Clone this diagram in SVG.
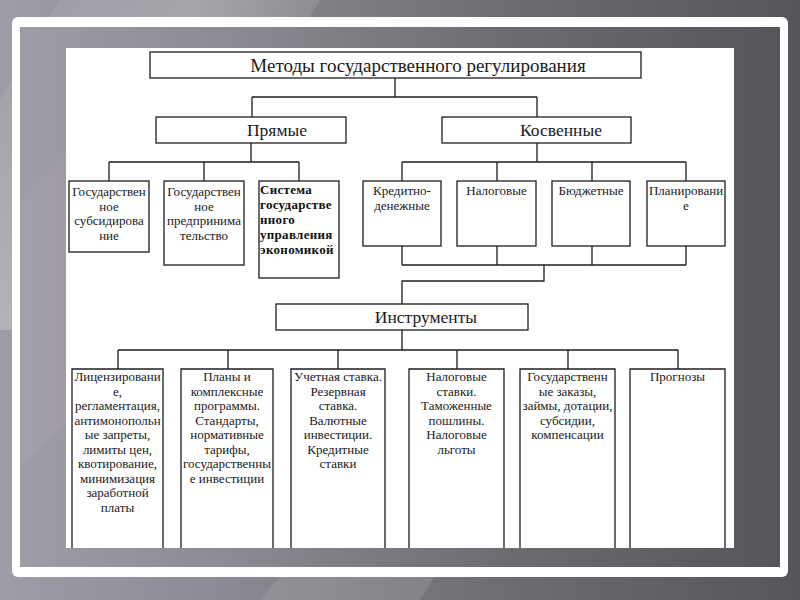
<svg xmlns="http://www.w3.org/2000/svg" width="800" height="600" viewBox="0 0 800 600">
<defs>
<linearGradient id="bg" x1="0" y1="0" x2="1" y2="0">
<stop offset="0" stop-color="#9e9ca6"/>
<stop offset="0.3" stop-color="#8a8890"/>
<stop offset="0.65" stop-color="#6c6b70"/>
<stop offset="1" stop-color="#56565a"/>
</linearGradient>
<linearGradient id="streak" x1="0" y1="0" x2="1" y2="0.6">
<stop offset="0" stop-color="#ffffff" stop-opacity="0"/>
<stop offset="0.45" stop-color="#ffffff" stop-opacity="0.22"/>
<stop offset="1" stop-color="#ffffff" stop-opacity="0"/>
</linearGradient>
<style>
.box{fill:#ffffff;stroke:#1e1e1e;stroke-width:1.3}
.open{fill:none;stroke:#1e1e1e;stroke-width:1.3}
.ln{fill:none;stroke:#1e1e1e;stroke-width:1.3}
.hd{font-size:17.5px;text-anchor:middle}
.tt{font-size:19px;text-anchor:middle}
.sm{font-size:13px;text-anchor:middle}
.bd{font-size:13px;font-weight:bold;fill:#111;letter-spacing:0.3px}
</style>
</defs>
<rect x="0" y="0" width="800" height="600" fill="url(#bg)"/>
<polygon points="60,0 320,0 120,330 0,330 0,100" fill="url(#streak)"/>
<polygon points="260,600 420,600 470,520 330,520" fill="#ffffff" fill-opacity="0.1"/>
<rect x="12" y="17" width="776" height="560" rx="6" fill="#ffffff"/>
<rect x="20" y="27" width="760" height="540" fill="url(#bg)"/>
<polygon points="20,200 20,470 70,420 70,150" fill="#b8a8c0" fill-opacity="0.2"/>
<rect x="66" y="48" width="668" height="500" fill="#ffffff"/>

<g id="connectors">
<path class="ln" d="M395 78V97M252 97H537M252 97V117M537 97V117"/>
<path class="ln" d="M251 143V162M109 162H299M109 162V181M204 162V181M299 162V181"/>
<path class="ln" d="M537 143V162M402 162H686M402 162V181M497 162V181M592 162V181M686 162V181"/>
<path class="ln" d="M402 246V265M497 246V265M592 246V265M686 246V265M402 265H686M544 265V281H402V304"/>
<path class="ln" d="M402 330V350M118 350H678M118 350V369M228 350V369M338 350V369M457 350V369M568 350V369M678 350V369"/>
</g>

<g id="nodes" font-family="Liberation Serif, DejaVu Serif, serif" fill="#1a1a1a">
<g id="title"><rect class="box" x="150" y="52" width="491" height="26"/><text class="tt" x="418" y="72">Методы государственного регулирования</text></g>
<g id="direct"><rect class="box" x="156" y="117" width="190" height="26"/><text class="hd" x="277" y="136">Прямые</text></g>
<g id="indirect"><rect class="box" x="442" y="117" width="189" height="26"/><text class="hd" x="561" y="136">Косвенные</text></g>

<g id="subsidy"><rect class="box" x="69" y="181" width="80" height="71"/>
<text class="sm" x="109" y="196">Государствен</text><text class="sm" x="109" y="210.5">ное</text><text class="sm" x="109" y="225">субсидирова</text><text class="sm" x="109" y="239.5">ние</text></g>
<g id="enterprise"><rect class="box" x="164" y="181" width="80" height="84"/>
<text class="sm" x="204" y="196">Государствен</text><text class="sm" x="204" y="210.5">ное</text><text class="sm" x="204" y="225">предпринима</text><text class="sm" x="204" y="239.5">тельство</text></g>
<g id="system"><rect class="box" x="259" y="181" width="80" height="97"/>
<text class="bd" x="260" y="194">Система</text><text class="bd" x="260" y="209">государстве</text><text class="bd" x="260" y="224">нного</text><text class="bd" x="260" y="239">управления</text><text class="bd" x="260" y="253.5">экономикой</text></g>

<g id="credit"><rect class="box" x="363" y="181" width="78" height="65"/>
<text class="sm" x="402" y="195">Кредитно-</text><text class="sm" x="402" y="209.5">денежные</text></g>
<g id="tax"><rect class="box" x="457" y="181" width="79" height="65"/>
<text class="sm" x="496.5" y="195">Налоговые</text></g>
<g id="budget"><rect class="box" x="552" y="181" width="78" height="65"/>
<text class="sm" x="591" y="195">Бюджетные</text></g>
<g id="planning"><rect class="box" x="647" y="181" width="78" height="65"/>
<text class="sm" x="686" y="195">Планировани</text><text class="sm" x="686" y="209.5">е</text></g>

<g id="instruments"><rect class="box" x="276" y="304" width="252" height="26"/><text class="hd" x="426" y="323">Инструменты</text></g>

<g id="inst1"><path class="open" d="M72 548V369H163V548"/>
<text class="sm" x="117.5" y="381">Лицензировани</text><text class="sm" x="117.5" y="395.5">е,</text><text class="sm" x="117.5" y="410">регламентация,</text><text class="sm" x="117.5" y="424.5">антимонопольн</text><text class="sm" x="117.5" y="439">ые запреты,</text><text class="sm" x="117.5" y="453.5">лимиты цен,</text><text class="sm" x="117.5" y="468">квотирование,</text><text class="sm" x="117.5" y="482.5">минимизация</text><text class="sm" x="117.5" y="497">заработной</text><text class="sm" x="117.5" y="511.5">платы</text></g>
<g id="inst2"><path class="open" d="M181 548V369H273V548"/>
<text class="sm" x="227" y="381">Планы и</text><text class="sm" x="227" y="395.5">комплексные</text><text class="sm" x="227" y="410">программы.</text><text class="sm" x="227" y="424.5">Стандарты,</text><text class="sm" x="227" y="439">нормативные</text><text class="sm" x="227" y="453.5">тарифы,</text><text class="sm" x="227" y="468">государственны</text><text class="sm" x="227" y="482.5">е инвестиции</text></g>
<g id="inst3"><path class="open" d="M291 548V369H385V548"/>
<text class="sm" x="338" y="381">Учетная ставка.</text><text class="sm" x="338" y="395.5">Резервная</text><text class="sm" x="338" y="410">ставка.</text><text class="sm" x="338" y="424.5">Валютные</text><text class="sm" x="338" y="439">инвестиции.</text><text class="sm" x="338" y="453.5">Кредитные</text><text class="sm" x="338" y="468">ставки</text></g>
<g id="inst4"><path class="open" d="M409 548V369H504V548"/>
<text class="sm" x="456.5" y="381">Налоговые</text><text class="sm" x="456.5" y="395.5">ставки.</text><text class="sm" x="456.5" y="410">Таможенные</text><text class="sm" x="456.5" y="424.5">пошлины.</text><text class="sm" x="456.5" y="439">Налоговые</text><text class="sm" x="456.5" y="453.5">льготы</text></g>
<g id="inst5"><path class="open" d="M520 548V369H615V548"/>
<text class="sm" x="567.5" y="381">Государственн</text><text class="sm" x="567.5" y="395.5">ые заказы,</text><text class="sm" x="567.5" y="410">займы, дотации,</text><text class="sm" x="567.5" y="424.5">субсидии,</text><text class="sm" x="567.5" y="439">компенсации</text></g>
<g id="inst6"><path class="open" d="M630 548V369H725V548"/>
<text class="sm" x="677.5" y="381">Прогнозы</text></g>
</g>
</svg>
